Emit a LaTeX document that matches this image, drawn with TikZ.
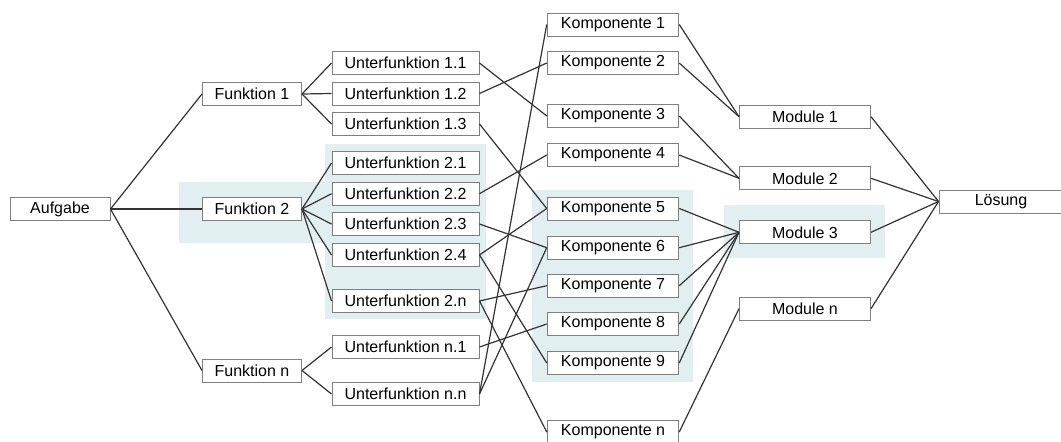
\documentclass[tikz,border=0pt]{standalone}
\usepackage{fontspec}
\setmainfont{Liberation Sans}
\definecolor{hl}{HTML}{E2EFF0}
\definecolor{boxgray}{HTML}{7F7F7F}
\definecolor{linecol}{HTML}{333333}
\begin{document}
\begin{tikzpicture}[x=1pt,y=-1pt,
  box/.style={draw=boxgray, line width=1pt, fill=white, inner sep=0pt,
    minimum height=23pt, font=\fontsize{16}{18}\selectfont},
  fbox/.style={box, minimum width=99pt},
  ubox/.style={box, minimum width=147pt},
  kbox/.style={box, minimum width=131.5pt},
  mbox/.style={box, minimum width=131pt},
  conn/.style={draw=linecol, line width=1.2pt},
  highlight/.style={fill=hl, draw=none}]
\useasboundingbox (0,0) rectangle (1061,442);
\clip (0,0) rectangle (1061,442);
% highlights
\fill[highlight] (179,182) rectangle (330,243);
\fill[highlight] (325,144) rectangle (486,319);
\fill[highlight] (532,190) rectangle (693,382);
\fill[highlight] (724,205) rectangle (885,258);
% nodes
\node[box, minimum width=100pt] (A) at (60,209) {Aufgabe};
\node[fbox] (F1) at (252,94) {Funktion 1};
\node[fbox] (F2) at (252,209) {Funktion 2};
\node[fbox] (Fn) at (252,370.5) {Funktion n};
\node[ubox] (U11) at (405.5,63) {Unterfunktion 1.1};
\node[ubox] (U12) at (405.5,93.5) {Unterfunktion 1.2};
\node[ubox] (U13) at (405.5,124) {Unterfunktion 1.3};
\node[ubox] (U21) at (405.5,163) {Unterfunktion 2.1};
\node[ubox] (U22) at (405.5,193.7) {Unterfunktion 2.2};
\node[ubox] (U23) at (405.5,224) {Unterfunktion 2.3};
\node[ubox] (U24) at (405.5,255) {Unterfunktion 2.4};
\node[ubox] (U2n) at (405.5,301) {Unterfunktion 2.n};
\node[ubox] (Un1) at (405.5,347) {Unterfunktion n.1};
\node[ubox] (Unn) at (405.5,394) {Unterfunktion n.n};
\node[kbox] (K1) at (613,24.5) {Komponente 1};
\node[kbox] (K2) at (613,63) {Komponente 2};
\node[kbox] (K3) at (613,116) {Komponente 3};
\node[kbox] (K4) at (613,155) {Komponente 4};
\node[kbox] (K5) at (613,208.5) {Komponente 5};
\node[kbox] (K6) at (613,247.7) {Komponente 6};
\node[kbox] (K7) at (613,285.7) {Komponente 7};
\node[kbox] (K8) at (613,324) {Komponente 8};
\node[kbox] (K9) at (613,363) {Komponente 9};
\node[kbox] (Kn) at (613,432) {Komponente n};
\node[mbox] (M1) at (805,116.7) {Module 1};
\node[mbox] (M2) at (805,178.3) {Module 2};
\node[mbox] (M3) at (805,232.3) {Module 3};
\node[mbox] (Mn) at (805,308.7) {Module n};
\node[box, minimum width=124pt] (L) at (1001,201.5) {Lösung};
% connectors
\foreach \a/\b in {A/F1,A/F2,A/Fn,
  F1/U11,F1/U12,F1/U13,
  F2/U21,F2/U22,F2/U23,F2/U24,F2/U2n,
  Fn/Un1,Fn/Unn,
  U11/K3,U12/K2,U13/K5,U22/K4,U23/K6,U24/K5,U24/K9,
  U2n/K7,U2n/Kn,Un1/K8,Unn/K1,Unn/K6,
  K1/M1,K2/M1,K3/M2,K4/M2,K5/M3,K6/M3,K7/M3,K8/M3,K9/M3,Kn/Mn,
  M1/L,M2/L,M3/L,Mn/L}
  \draw[conn] (\a.east) -- (\b.west);
\end{tikzpicture}
\end{document}
